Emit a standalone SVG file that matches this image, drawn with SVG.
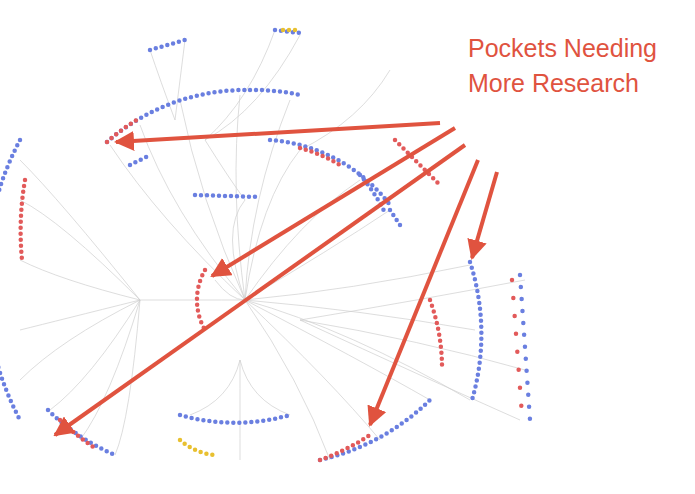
<svg xmlns="http://www.w3.org/2000/svg" width="695" height="494" viewBox="0 0 695 494">
<style>
.ln{fill:none;stroke:#cfcfcf;stroke-width:0.7}
.b{fill:none;stroke:#6a7fe0;stroke-width:4.5;stroke-linecap:round;stroke-dasharray:0 6}
.r{fill:none;stroke:#e25a5a;stroke-width:4.5;stroke-linecap:round;stroke-dasharray:0 6}
.y{fill:none;stroke:#e8c030;stroke-width:4.5;stroke-linecap:round;stroke-dasharray:0 6}
.ar{stroke:#e0533f;stroke-width:4;fill:none}
.t{font-family:"Liberation Sans",Arial,sans-serif;font-size:25px;fill:#e0533f}
</style>
<defs><marker id="ah" viewBox="0 0 10 10" refX="9" refY="5" markerWidth="5" markerHeight="5" orient="auto"><path d="M0,0 L10,5 L0,10 z" fill="#e0533f"/></marker></defs>
<rect width="695" height="494" fill="#fff"/>
<g id="tree-lines">
<path class="ln" d="M245 300 Q160 220 110 145 M245 300 Q170 210 140 125 M245 300 Q200 200 180 100 M245 300 Q230 190 240 95 M245 300 Q250 200 290 100 M245 300 Q260 200 300 150 M245 300 Q300 220 360 180 M245 300 Q330 250 390 210"/>
<path class="ln" d="M245 300 Q350 290 470 265 M245 300 Q360 310 475 330 M245 300 Q350 330 470 400 M300 320 Q420 300 525 280 M300 320 Q420 340 525 370 M300 320 Q430 380 520 420"/>
<path class="ln" d="M245 300 Q300 380 330 460 M245 300 Q330 380 380 440 M245 300 Q360 360 430 400 M240 360 Q230 400 190 415 M240 360 Q250 400 290 415 M240 360 Q240 420 240 460"/>
<path class="ln" d="M140 300 Q90 380 50 410 M140 300 Q110 400 80 440 M140 300 Q130 420 115 455 M140 300 Q60 280 20 260 M140 300 Q60 200 20 160 M140 300 Q60 340 20 380 M140 300 Q60 220 20 200 M140 300 Q60 320 20 330 M140 300 Q200 300 245 300"/>
<path class="ln" d="M175 120 Q160 80 150 50 M175 120 Q180 80 185 40 M205 140 Q250 100 275 30 M205 140 Q260 110 300 35 M205 140 Q230 180 245 200 M245 200 Q220 230 245 300 M300 150 Q360 120 390 70 M215 280 Q230 300 245 300"/>
</g>
<g id="dots">
<path class="b" d="M107 142 A210 210 0 0 1 245 90"/>
<path class="r" d="M107 142 A210 210 0 0 1 140 118"/>
<path class="b" d="M250 90 A210 210 0 0 1 300 95"/>
<path class="b" d="M270 140 A165 165 0 0 1 390 205"/>
<path class="r" d="M300 148 A165 165 0 0 1 340 165"/>
<path class="b" d="M470 262 A235 235 0 0 1 472 400"/>
<path class="r" d="M430 300 A200 200 0 0 1 442 365"/>
<path class="b" d="M360 175 A170 170 0 0 1 386 215"/>
<path class="b" d="M320 460 A230 230 0 0 0 430 400"/>
<path class="r" d="M320 460 A230 230 0 0 0 370 435"/>
<path class="b" d="M48 410 A220 220 0 0 0 115 455"/>
<path class="r" d="M60 420 A220 220 0 0 0 95 448"/>
<path class="b" d="M180 415 A200 200 0 0 0 290 415"/>
<path class="y" d="M180 440 A60 60 0 0 0 215 455"/>
<path class="b" d="M20 140 A300 300 0 0 0 20 420"/>
<path class="r" d="M25 180 A300 300 0 0 0 22 260"/>
<path class="r" d="M205 270 A60 60 0 0 0 205 330"/>
<path class="b" d="M520 275 L530 420" style="stroke-dasharray:0 12"/>
<path class="r" d="M512 280 L522 415" style="stroke-dasharray:0 18"/>
<path class="b" d="M150 50 L185 40"/><path class="b" d="M275 30 L300 33"/><path class="y" d="M283 30 L300 30"/>
<path class="b" d="M195 195 L260 197"/><path class="r" d="M395 140 L440 185"/>
<path class="b" d="M390 210 L400 225"/><path class="b" d="M130 165 L150 155"/>
</g>
<g id="arrows">
<line class="ar" x1="440" y1="123" x2="116" y2="142" marker-end="url(#ah)"/>
<line class="ar" x1="455" y1="128" x2="212" y2="276" marker-end="url(#ah)"/>
<line class="ar" x1="465" y1="145" x2="55" y2="435" marker-end="url(#ah)"/>
<line class="ar" x1="478" y1="160" x2="370" y2="425" marker-end="url(#ah)"/>
<line class="ar" x1="497" y1="172" x2="472" y2="258" marker-end="url(#ah)"/>
</g>
<text class="t" x="468" y="57">Pockets Needing</text>
<text class="t" x="468" y="92">More Research</text>
</svg>
